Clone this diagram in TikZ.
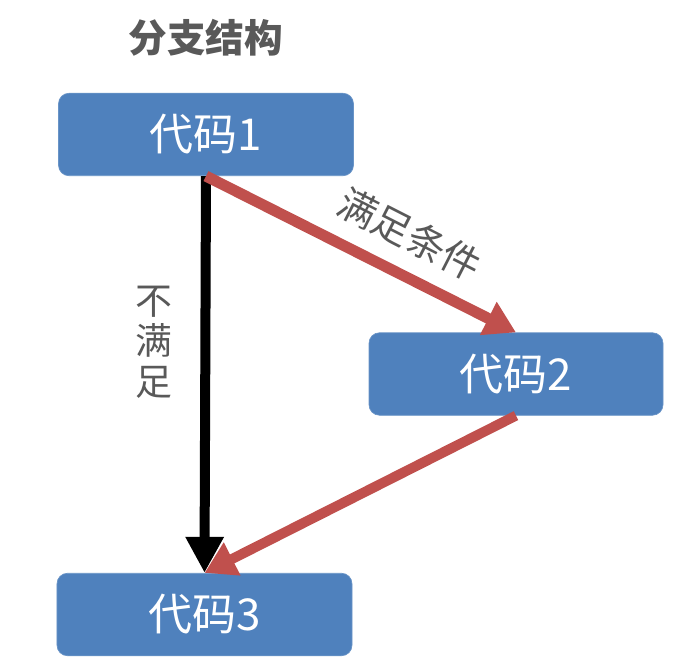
\documentclass[tikz,border=0pt]{standalone}
\usepackage{fontspec}
\newfontfamily\cjk{Noto Sans CJK SC}
\usetikzlibrary{arrows.meta, positioning}
\definecolor{boxblue}{HTML}{4F81BD}
\definecolor{arrowred}{HTML}{C0504D}
\definecolor{textgray}{HTML}{595959}

\begin{document}
\begin{tikzpicture}[
    box/.style={draw=boxblue!85!white, fill=boxblue, rounded corners=6pt, minimum width=5.9cm, minimum height=1.65cm, align=center, text=white, font=\cjk\fontsize{25}{30}\selectfont},
    lbl/.style={text=textgray, align=center, font=\cjk\fontsize{21}{23}\selectfont},
    blackarr/.style={-{Triangle[length=0.72cm, width=0.72cm]}, line width=0.2cm},
    redarr/.style={-{Triangle[length=0.62cm, width=0.7cm]}, line width=0.22cm, color=arrowred},
]
\useasboundingbox (0,0) rectangle (13.9,13.38);

% Title
\node[lbl, font=\cjk\bfseries\fontsize{22}{26}\selectfont] (title) at (4.12, 12.62) {分支结构};

% Code blocks
\node[box] (code1) at (4.12, 10.69) {代码1};
\node[box, minimum width=5.88cm] (code2) at (10.32, 5.9) {代码2};
\node[box] (code3) at (4.09, 1.09) {代码3};

% Arrows
\draw[blackarr] (code1.south) -- (code3.north);
\draw[redarr] (code1.south) -- (code2.north);
\draw[redarr, line width=0.2cm] (code2.south) -- (code3.north);

% Labels
\node[lbl, font=\cjk\fontsize{22}{26}\selectfont, rotate=-27] (yes) at (8.2, 8.7) {满足条件};
\node[lbl] (no) at (3.08, 6.54) {不\\满\\足};

\end{tikzpicture}
\end{document}
